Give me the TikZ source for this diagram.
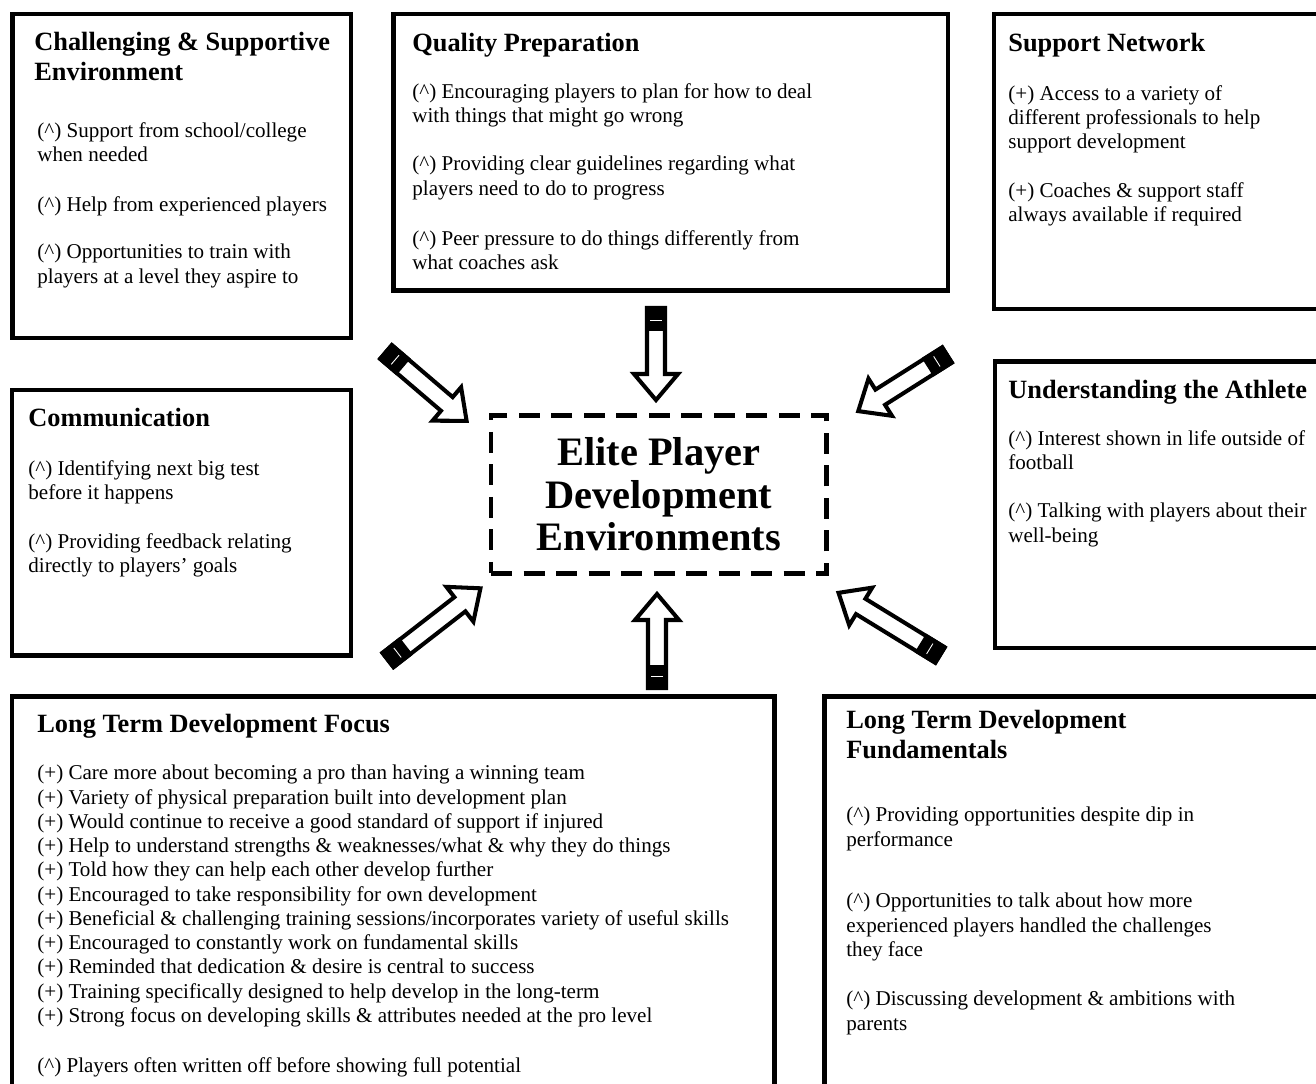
\documentclass[tikz,border=0pt]{standalone}
\usepackage{fontspec}
\setmainfont{Liberation Serif}
\usetikzlibrary{calc}

\def\upmark{(\textasciicircum)}
\def\blockarrow(#1)(#2:#3){%
	\begin{scope}[shift={(#1)},rotate=#2]
		\draw[line width=2.3pt, fill=white, miter limit=10] (0,-9) -- (#3-26,-9) -- (#3-26,-22) -- (#3,0) -- (#3-26,22) -- (#3-26,9) -- (0,9) -- cycle;
		\filldraw[line width=2.3pt] (0,-9) rectangle (21,9);
		\draw[white, line width=0.5pt] (12,-6) -- (12,6);
	\end{scope}}

\tikzset{
	panel/.style={line width=2.8pt},
	head/.style={anchor=north west, inner sep=0pt, align=left, font=\fontsize{15}{17.2}\selectfont\bfseries, execute at begin node=\strut},
	body/.style={anchor=north west, inner sep=0pt, align=left, font=\fontsize{12}{13.8}\selectfont, execute at begin node=\strut},
	hub/.style={draw, line width=2.8pt, dash pattern=on 12pt off 6.5pt, align=center, minimum width=6.71cm, minimum height=3.16cm, font=\fontsize{23}{24.2}\selectfont\bfseries}
}

\begin{document}
\begin{tikzpicture}[x=0.02cm, y=0.02cm]
			%%%%% START %%%%%
			\useasboundingbox (0,0) rectangle (1316,-1083);
			\clip (0,0) rectangle (1316,-1083);
			
			% boxes
			\draw[panel] (12.5,-14) rectangle (351,-338);
			\draw[panel] (393.5,-14) rectangle (948,-290.5);
			\draw[panel] (994,-14) rectangle (1330,-309);
			\draw[panel] (12,-390) rectangle (351,-655.5);
			\draw[panel] (995,-361.5) rectangle (1330,-648);
			\draw[panel] (12,-696.5) rectangle (774.5,-1100);
			\draw[panel] (824.5,-696.5) rectangle (1330,-1100);
			
			\node[hub] (hub) at (658.75,-494.5) {Elite Player\\Development\\Environments};
			
			% challenging & supportive
			\node[head] (chalhead) at (34,-32) {Challenging \& Supportive\\Environment};
			\node[body] (chal1) at (37,-122) {\upmark{} Support from school/college\\when needed};
			\node[body] (chal2) at (37,-194) {\upmark{} Help from experienced players};
			\node[body] (chal3) at (37,-244) {\upmark{} Opportunities to train with\\players at a level they aspire to};
			
			% quality preparation
			\node[head] (qualhead) at (412,-30) {Quality Preparation};
			\node[body] (qual1) at (412,-83) {\upmark{} Encouraging players to plan for how to deal\\with things that might go wrong};
			\node[body] (qual2) at (412,-156) {\upmark{} Providing clear guidelines regarding what\\players need to do to progress};
			\node[body] (qual3) at (412,-230) {\upmark{} Peer pressure to do things differently from\\what coaches ask};
			
			% support network
			\node[head] (supphead) at (1008,-30) {Support Network};
			\node[body] (supp1) at (1008,-85) {(+) Access to a variety of\\different professionals to help\\support development};
			\node[body] (supp2) at (1008,-182) {(+) Coaches \& support staff\\always available if required};
			
			% communication
			\node[head] (commhead) at (28,-405) {Communication};
			\node[body] (comm1) at (28,-460) {\upmark{} Identifying next big test\\before it happens};
			\node[body] (comm2) at (28,-533) {\upmark{} Providing feedback relating\\directly to players' goals};
			
			% understanding the athlete
			\node[head] (undehead) at (1008,-377) {Understanding the Athlete};
			\node[body] (unde1) at (1008,-430) {\upmark{} Interest shown in life outside of\\football};
			\node[body] (unde2) at (1008,-503) {\upmark{} Talking with players about their\\well-being};
			
			% long term development focus
			\node[head] (focushead) at (37,-711) {Long Term Development Focus};
			\node[body] (focus1) at (37,-765) {(+) Care more about becoming a pro than having a winning team\\
				(+) Variety of physical preparation built into development plan\\
				(+) Would continue to receive a good standard of support if injured\\
				(+) Help to understand strengths \& weaknesses/what \& why they do things\\
				(+) Told how they can help each other develop further\\
				(+) Encouraged to take responsibility for own development\\
				(+) Beneficial \& challenging training sessions/incorporates variety of useful skills\\
				(+) Encouraged to constantly work on fundamental skills\\
				(+) Reminded that dedication \& desire is central to success\\
				(+) Training specifically designed to help develop in the long-term\\
				(+) Strong focus on developing skills \& attributes needed at the pro level};
			\node[body] (focus2) at (37,-1055) {\upmark{} Players often written off before showing full potential};
			
			% long term development fundamentals
			\node[head] (fundhead) at (846,-710) {Long Term Development\\Fundamentals};
			\node[body] (fund1) at (846,-807) {\upmark{} Providing opportunities despite dip in\\performance};
			\node[body] (fund2) at (846,-893) {\upmark{} Opportunities to talk about how more\\experienced players handled the challenges\\they face};
			\node[body] (fund3) at (846,-991) {\upmark{} Discussing development \& ambitions with\\parents};
			
			% arrows into the hub
			\blockarrow(386,-352)(-40.5:106);
			\blockarrow(656,-308)(-90:92);
			\blockarrow(947,-355)(-147.7:105);
			\blockarrow(388,-660)(37.8:117);
			\blockarrow(657,-688)(90:94);
			\blockarrow(940,-655)(148.5:119);
			
			%%%%% END %%%%%
\end{tikzpicture}
\end{document}
